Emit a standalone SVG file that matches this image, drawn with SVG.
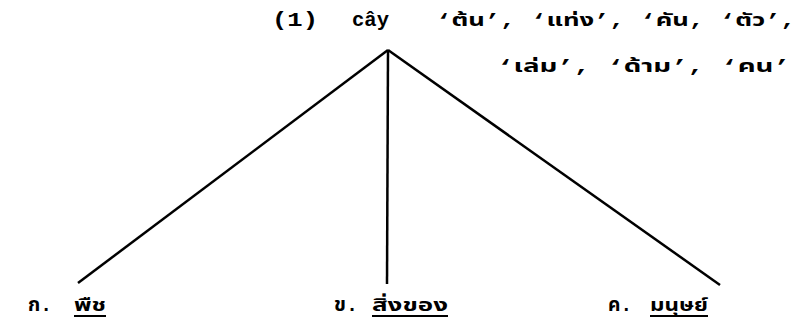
<svg xmlns="http://www.w3.org/2000/svg" width="807" height="332" viewBox="0 0 807 332">
<style>
.t{font-family:"Liberation Mono","Noto Sans Thai","Noto Sans",monospace;font-weight:bold;font-size:18px;fill:#000}
.b{font-family:"Liberation Mono","Noto Sans Thai","Noto Sans",monospace;font-weight:bold;font-size:20px;fill:#000}
.m{font-family:"Liberation Mono",monospace;font-weight:bold;font-size:21px;fill:#000}
.l{stroke:#000;stroke-width:2.5;fill:none}
.u{stroke:#000;stroke-width:2}
</style>
<rect width="807" height="332" fill="#fff"/>
<g id="root">
<text class="m" x="272" y="26" textLength="46" lengthAdjust="spacingAndGlyphs">(1)</text>
<text class="m" x="352" y="26" textLength="37" lengthAdjust="spacingAndGlyphs">cây</text>
<text class="t" x="436" y="26" textLength="360" lengthAdjust="spacingAndGlyphs">‘ต้น’, ‘แท่ง’, ‘คัน, ‘ตัว’,</text>
<text class="t" x="497" y="72" textLength="293" lengthAdjust="spacingAndGlyphs">‘เล่ม’, ‘ด้าม’, ‘คน’</text>
</g>
<g id="connectors">
<line class="l" x1="388" y1="50" x2="78" y2="283"/>
<line class="l" x1="388" y1="50" x2="387" y2="284"/>
<line class="l" x1="388" y1="50" x2="720" y2="285"/>
</g>
<g id="n1">
<text class="b" x="28" y="311" textLength="24" lengthAdjust="spacingAndGlyphs">ก.</text>
<text class="t" x="74" y="311" textLength="32" lengthAdjust="spacingAndGlyphs">พืช</text>
<line class="u" x1="74" y1="316" x2="106" y2="316"/>
</g>
<g id="n2">
<text class="b" x="334" y="311" textLength="24" lengthAdjust="spacingAndGlyphs">ข.</text>
<text class="t" x="372" y="311" textLength="76" lengthAdjust="spacingAndGlyphs">สิ่งของ</text>
<line class="u" x1="372" y1="316" x2="448" y2="316"/>
</g>
<g id="n3">
<text class="b" x="608" y="311" textLength="24" lengthAdjust="spacingAndGlyphs">ค.</text>
<text class="t" x="650" y="311" textLength="58" lengthAdjust="spacingAndGlyphs">มนุษย์</text>
<line class="u" x1="650" y1="316" x2="708" y2="316"/>
</g>
</svg>
